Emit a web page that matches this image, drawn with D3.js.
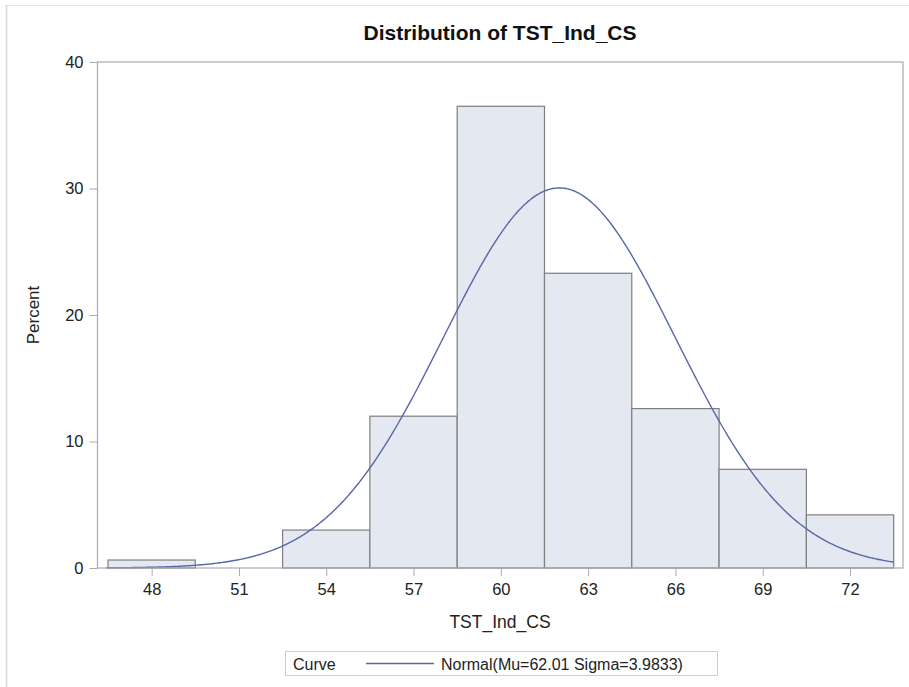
<!DOCTYPE html>
<html>
<head>
<meta charset="utf-8">
<script src="https://cdn.jsdelivr.net/npm/d3@7"></script>
<style>
  body { margin: 0; background: #fff; }
  text { font-family: "Liberation Sans", Arial, sans-serif; }
</style>
</head>
<body>
<svg id="chart"></svg>
<script>
// histogram data
const binMids = [48, 51, 54, 57, 60, 63, 66, 69, 72];
const percents = [0.63, 0, 3.0, 12.0, 36.5, 23.3, 12.6, 7.8, 4.2];
const xTicks = [48, 51, 54, 57, 60, 63, 66, 69, 72];
const yTicks = [0, 10, 20, 30, 40];
const MU = 62.01;
const SIGMA = 3.9833;
const BIN_WIDTH = 3;

const WIDTH = 909, HEIGHT = 687;
const frame = {left: 97.5, right: 903, top: 62, bottom: 568};

let svg = d3.select('#chart')
    .attr('width', WIDTH)
    .attr('height', HEIGHT);

// faint outer border (top and left only)
svg.append('line').attr('x1', 6).attr('x2', WIDTH).attr('y1', 5.5).attr('y2', 5.5)
    .style('stroke', '#e6e6e6').style('stroke-width', 1);
svg.append('line').attr('x1', 6.5).attr('x2', 6.5).attr('y1', 5).attr('y2', HEIGHT)
    .style('stroke', '#d8d8d8').style('stroke-width', 1.5);

const x = d3.scaleLinear()
    .domain([46.14, 73.82])
    .range([frame.left, frame.right]);

const y = d3.scaleLinear()
    .domain([0, 40])
    .range([frame.bottom, frame.top]);

// bars
svg.append('g')
    .selectAll('rect')
    .data(binMids)
    .enter()
    .append('rect')
    .attr('x', d => x(d - BIN_WIDTH / 2))
    .attr('width', d => x(d + BIN_WIDTH / 2) - x(d - BIN_WIDTH / 2))
    .attr('y', (d, i) => y(percents[i]))
    .attr('height', (d, i) => y(0) - y(percents[i]))
    .style('fill', '#e3e8f1')
    .style('stroke', (d, i) => percents[i] > 0 ? '#7f7f7f' : 'none')
    .style('stroke-width', 1.2);

// normal curve, scaled to percent per bin
let curvePts = d3.range(x.domain()[0] + 0.3, 73.5, 0.05).map(v => {
    let z = (v - MU) / SIGMA;
    return [v, 100 * BIN_WIDTH * Math.exp(-0.5 * z * z) / (SIGMA * Math.sqrt(2 * Math.PI))];
});
svg.append('path')
    .datum(curvePts)
    .attr('d', d3.line().x(d => x(d[0])).y(d => y(d[1])))
    .style('fill', 'none')
    .style('stroke', '#5767a8')
    .style('stroke-width', 1.4);

// plot frame
svg.append('rect')
    .attr('x', frame.left)
    .attr('y', frame.top)
    .attr('width', frame.right - frame.left)
    .attr('height', frame.bottom - frame.top)
    .style('fill', 'none')
    .style('stroke', '#a7abb0')
    .style('stroke-width', 1.2);

// axes
let yAxis = svg.append('g')
    .attr('transform', `translate(${frame.left},0)`)
    .call(d3.axisLeft(y).tickValues(yTicks).tickSize(8).tickPadding(6));
let xAxis = svg.append('g')
    .attr('transform', `translate(0,${frame.bottom})`)
    .call(d3.axisBottom(x).tickValues(xTicks).tickSize(8).tickPadding(7));
[xAxis, yAxis].forEach(a => {
    a.select('.domain').remove();
    a.selectAll('line').style('stroke', '#a7abb0');
    a.selectAll('text')
        .style('font-family', '"Liberation Sans", Arial, sans-serif')
        .style('font-size', '16.5px')
        .style('fill', '#222');
});

// title and labels
svg.append('text')
    .attr('x', 500)
    .attr('y', 40)
    .style('text-anchor', 'middle')
    .style('font-size', '21px')
    .style('font-weight', 'bold')
    .style('fill', '#111')
    .text('Distribution of TST_Ind_CS');

svg.append('text')
    .attr('x', 500)
    .attr('y', 628)
    .style('text-anchor', 'middle')
    .style('font-size', '17.5px')
    .style('fill', '#222')
    .text('TST_Ind_CS');

svg.append('text')
    .attr('transform', 'translate(39,315) rotate(-90)')
    .style('text-anchor', 'middle')
    .style('font-size', '17px')
    .style('fill', '#222')
    .text('Percent');

// legend
let legend = svg.append('g');
legend.append('rect')
    .attr('x', 285.5).attr('y', 651.5)
    .attr('width', 432).attr('height', 24)
    .style('fill', 'none')
    .style('stroke', '#cfcfcf');
legend.append('text')
    .attr('x', 293).attr('y', 669.5)
    .style('font-size', '16px')
    .style('fill', '#222')
    .text('Curve');
legend.append('line')
    .attr('x1', 366).attr('x2', 434).attr('y1', 663.5).attr('y2', 663.5)
    .style('stroke', '#5767a8').style('stroke-width', 1.4);
legend.append('text')
    .attr('x', 441).attr('y', 669.5)
    .style('font-size', '16px')
    .style('fill', '#222')
    .text(`Normal(Mu=${MU} Sigma=${SIGMA})`);
</script>
</body>
</html>
